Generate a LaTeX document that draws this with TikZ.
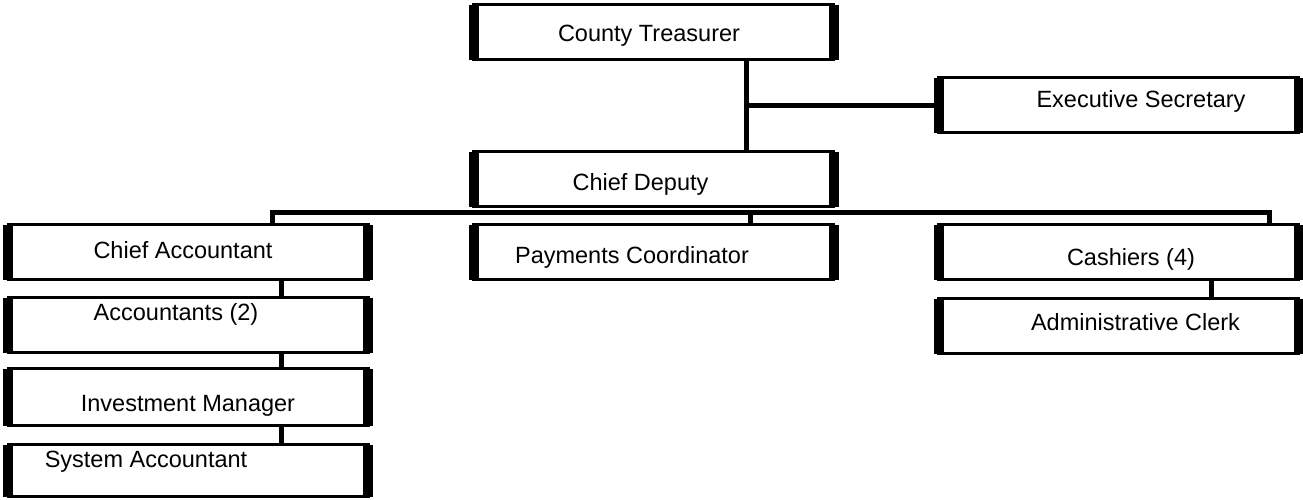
\documentclass[tikz,border=0pt]{standalone}
\usepackage{fontspec}
\setmainfont{Liberation Sans}

\tikzset{
  post/.style={draw, line width=3pt, inner sep=0pt, outer sep=0pt,
    minimum width=360pt, minimum height=55pt,
    append after command={
      (\tikzlastnode.north west) edge[edgebar] (\tikzlastnode.south west)
      (\tikzlastnode.north east) edge[edgebar] (\tikzlastnode.south east)
    }},
  edgebar/.style={draw, line width=10pt},
  link/.style={draw, line width=5pt, line join=miter},
  caption/.style={anchor=base, inner sep=0pt, font=\fontsize{23.5}{28}\selectfont},
}

\begin{document}
\begin{tikzpicture}[x=1pt, y=-1pt]
  \useasboundingbox (0,0) rectangle (1303,499);

  \node[post] (ct)   at (653.5,32)  {};
  \node[post] (es)   at (1118.5,105) {};
  \node[post] (cd)   at (653.5,179) {};
  \node[post] (ca)   at (188,252)   {};
  \node[post] (pc)   at (653.5,252) {};
  \node[post] (cash) at (1118.5,252) {};
  \node[post] (acc)  at (188,325)   {};
  \node[post] (ac)   at (1118.5,326) {};
  \node[post, minimum height=57pt] (im) at (188,397) {};
  \node[post, minimum height=52pt] (sa) at (188,470.5) {};

  \node[caption] (ct-text)   at (649,41)     {County Treasurer};
  \node[caption] (es-text)   at (1141,107.5) {Executive Secretary};
  \node[caption] (cd-text)   at (640.5,190)  {Chief Deputy};
  \node[caption] (ca-text)   at (183,258)    {Chief Accountant};
  \node[caption] (pc-text)   at (632,263)    {Payments Coordinator};
  \node[caption] (cash-text) at (1131,265)   {Cashiers (4)};
  \node[caption] (acc-text)  at (176,320)    {Accountants (2)};
  \node[caption] (ac-text)   at (1135.5,330) {Administrative Clerk};
  \node[caption] (im-text)   at (188,411)    {Investment Manager};
  \node[caption] (sa-text)   at (146,467)    {System Accountant};

  \coordinate (trunk) at (746,105);
  \coordinate (bus-l) at (272.5,212.5);
  \coordinate (bus-m) at (750,212.5);
  \coordinate (bus-r) at (1269.5,212.5);
  \coordinate (stem)  at (281,0);
  \coordinate (stem-r) at (1211.5,0);

  \draw[link] (trunk |- ct.south) -- (trunk |- cd.north);
  \draw[link] (trunk) -- (es.west);

  \draw[link] (bus-l |- ca.north) -- (bus-l) -- (bus-r) -- (bus-r |- cash.north);
  \draw[link] (bus-m) -- (bus-m |- pc.north);

  \draw[link] (stem |- ca.south) -- (stem |- acc.north);
  \draw[link] (stem |- acc.south) -- (stem |- im.north);
  \draw[link] (stem |- im.south) -- (stem |- sa.north);
  \draw[link] (stem-r |- cash.south) -- (stem-r |- ac.north);

\end{tikzpicture}
\end{document}
